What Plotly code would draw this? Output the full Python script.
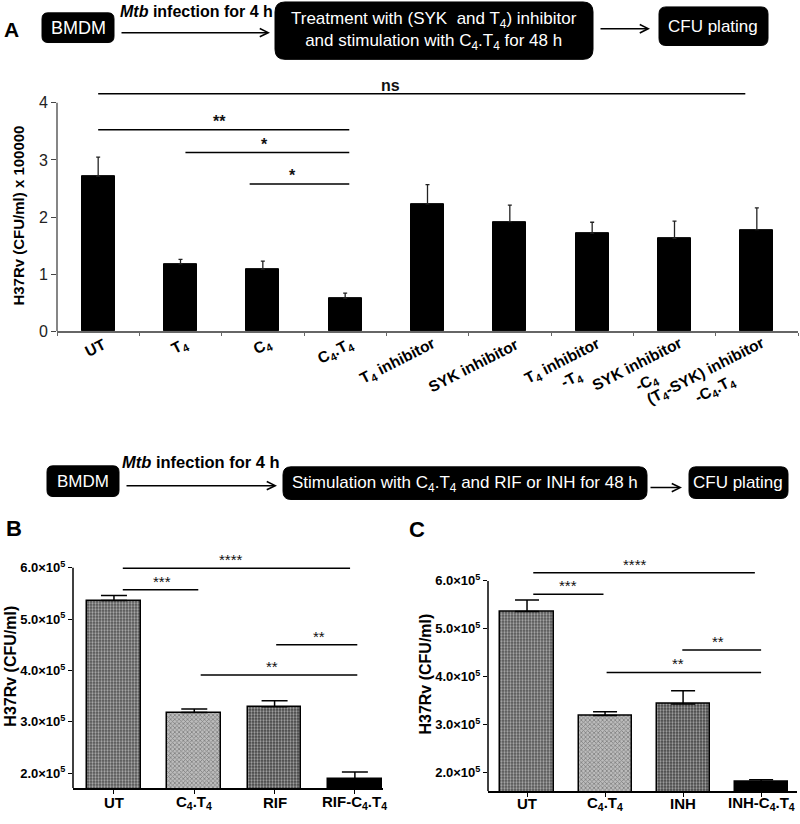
import re
import math
import plotly.graph_objects as go

W, H = 800, 824

# ---------------- Panel A data ----------------
a_labels = ["UT", "T<sub>4</sub>", "C<sub>4</sub>", "C<sub>4</sub>.T<sub>4</sub>",
            "T<sub>4</sub> inhibitor", "SYK inhibitor",
            "T<sub>4</sub> inhibitor<br>-T<sub>4</sub>",
            "SYK inhibitor<br>-C<sub>4</sub>",
            "(T<sub>4</sub>-SYK) inhibitor<br>-C<sub>4</sub>.T<sub>4</sub>"]
a_values = [2.72, 1.18, 1.09, 0.58, 2.23, 1.92, 1.72, 1.63, 1.78]
a_errors = [0.33, 0.08, 0.14, 0.09, 0.34, 0.29, 0.19, 0.30, 0.38]
a_yticks = [0, 1, 2, 3, 4]
# significance: start idx, end idx, level, text, text x
a_sig_x0 = [0.0, 0.0, 1.06, 1.84]
a_sig_x1 = [7.86, 3.05, 3.05, 3.05]
a_sig_y = [4.16, 3.53, 3.13, 2.58]
a_sig_txt = ["ns", "**", "*", "*"]
a_sig_tx = [3.55, 1.47, 2.02, 2.36]

# ---------------- Panel B data ----------------
b_labels = ["UT", "C<sub>4</sub>.T<sub>4</sub>", "RIF", "RIF-C<sub>4</sub>.T<sub>4</sub>"]
b_values = [5.36e5, 3.18e5, 3.29e5, 1.89e5]
b_errors = [0.10e5, 0.07e5, 0.12e5, 0.13e5]
b_sig_x0 = [0.11, 0.11, 2.02, 1.08]
b_sig_x1 = [2.94, 1.05, 3.03, 3.03]
b_sig_y = [5.99e5, 5.57e5, 4.50e5, 3.91e5]
b_sig_txt = ["****", "***", "**", "**"]
b_sig_tx = [1.46, 0.60, 2.55, 1.97]

# ---------------- Panel C data ----------------
c_labels = ["UT", "C<sub>4</sub>.T<sub>4</sub>", "INH", "INH-C<sub>4</sub>.T<sub>4</sub>"]
c_values = [5.36e5, 3.19e5, 3.43e5, 1.80e5]
c_errors = [0.24e5, 0.08e5, 0.28e5, 0.05e5]
c_sig_x0 = [0.08, 0.08, 1.99, 1.02]
c_sig_x1 = [2.92, 0.98, 3.00, 3.00]
c_sig_y = [6.17e5, 5.72e5, 4.56e5, 4.09e5]
c_sig_txt = ["****", "***", "**", "**"]
c_sig_tx = [1.39, 0.53, 2.45, 1.93]

bc_yticks = [2e5, 3e5, 4e5, 5e5, 6e5]
bc_yticktext = ["%.1f×10<sup>5</sup>" % (v / 1e5) for v in bc_yticks]

# bar textures for B / C
pat_shape = [".", "x", ".", ""]
pat_fg = ["#151515", "#2e2e2e", "#0c0c0c", "#000000"]
pat_bg = ["#525252", "#bcbcbc", "#434343", "#000000"]

FONT = "Arial, Liberation Sans, sans-serif"


def px(x):
    return x / W


def py(y):
    return 1 - y / H


def rrect(x0, y0, x1, y1, r):
    p = (f"M{px(x0+r)},{py(y0)} L{px(x1-r)},{py(y0)} Q{px(x1)},{py(y0)} {px(x1)},{py(y0+r)} "
         f"L{px(x1)},{py(y1-r)} Q{px(x1)},{py(y1)} {px(x1-r)},{py(y1)} "
         f"L{px(x0+r)},{py(y1)} Q{px(x0)},{py(y1)} {px(x0)},{py(y1-r)} "
         f"L{px(x0)},{py(y0+r)} Q{px(x0)},{py(y0)} {px(x0+r)},{py(y0)} Z")
    return dict(type="path", xref="paper", yref="paper", path=p,
                fillcolor="black", line=dict(color="black", width=1), layer="above")


def est_width(s, size):
    """rough width (px) of a bold Arial line with <sub> parts"""
    def cw(ch):
        if ch in "iljI .":
            return 0.28
        if ch in "tf-()":
            return 0.33
        if ch == "r":
            return 0.39
        if ch.isupper():
            return 0.68
        if ch.isdigit():
            return 0.56
        return 0.61
    total = 0.0
    for part in re.split(r"(<sub>.*?</sub>)", s):
        if part.startswith("<sub>"):
            total += 0.7 * sum(cw(c) for c in part[5:-6])
        else:
            total += sum(cw(c) for c in part)
    return total * size


fig = go.Figure()

# Panel A bars
fig.add_trace(go.Bar(
    x=list(range(len(a_labels))), y=a_values, width=0.4, xaxis="x", yaxis="y",
    marker=dict(color="black", line=dict(color="black", width=1)),
    error_y=dict(type="data", symmetric=False, array=a_errors,
                 arrayminus=[0] * len(a_errors), color="#222", thickness=1.3, width=2),
    showlegend=False))

# Panel B bars
fig.add_trace(go.Bar(
    x=list(range(len(b_labels))), y=b_values, width=0.67, xaxis="x2", yaxis="y2",
    marker=dict(color=pat_bg, line=dict(color="black", width=1.5),
                pattern=dict(shape=pat_shape, fgcolor=pat_fg, bgcolor=pat_bg,
                             size=3, solidity=0.45)),
    error_y=dict(type="data", symmetric=False, array=b_errors,
                 arrayminus=[0] * len(b_errors), color="black", thickness=1.5, width=13),
    showlegend=False))

# Panel C bars
fig.add_trace(go.Bar(
    x=list(range(len(c_labels))), y=c_values, width=0.68, xaxis="x3", yaxis="y3",
    marker=dict(color=pat_bg, line=dict(color="black", width=1.5),
                pattern=dict(shape=pat_shape, fgcolor=pat_fg, bgcolor=pat_bg,
                             size=3, solidity=0.45)),
    error_y=dict(type="data", symmetric=False, array=c_errors,
                 arrayminus=[0] * len(c_errors), color="black", thickness=1.5, width=12),
    showlegend=False))

shapes = []
annotations = []


def add_sig(xr, yr, x0s, x1s, ys, txts, txs, size, bold):
    for x0, x1, y, t, tx in zip(x0s, x1s, ys, txts, txs):
        shapes.append(dict(type="line", xref=xr, yref=yr, x0=x0, x1=x1, y0=y, y1=y,
                           line=dict(color="black", width=1.5)))
        annotations.append(dict(xref=xr, yref=yr, x=tx, y=y, text=t, showarrow=False,
                                yanchor="bottom", yshift=-2,
                                font=dict(family=FONT, size=size, color="#111",
                                          weight="bold" if bold else "normal")))


add_sig("x", "y", a_sig_x0, a_sig_x1, a_sig_y, a_sig_txt, a_sig_tx, 16, True)
add_sig("x2", "y2", b_sig_x0, b_sig_x1, b_sig_y, b_sig_txt, b_sig_tx, 15, False)
add_sig("x3", "y3", c_sig_x0, c_sig_x1, c_sig_y, c_sig_txt, c_sig_tx, 15, False)

# y axis lines (end at top tick)
shapes.append(dict(type="line", xref="x domain", yref="y", x0=0, x1=0, y0=0, y1=a_yticks[-1],
                   line=dict(color="#444", width=1.3)))
shapes.append(dict(type="line", xref="x2 domain", yref="y2", x0=0, x1=0, y0=1.71e5,
                   y1=bc_yticks[-1], line=dict(color="black", width=1.5)))
shapes.append(dict(type="line", xref="x3 domain", yref="y3", x0=0, x1=0, y0=1.61e5,
                   y1=bc_yticks[-1], line=dict(color="black", width=1.5)))

# ---------- rotated category labels for panel A ----------
ANG = 27
LAB_SIZE = 15.5
ca, sa = math.cos(math.radians(ANG)), math.sin(math.radians(ANG))
for i, lab in enumerate(a_labels):
    lines = lab.split("<br>")
    L1 = est_width(lines[0], LAB_SIZE)
    n = len(lines)
    lh = 1.25 * LAB_SIZE
    dx = 7 - ca * L1 / 2 + sa * (n - 1) * lh / 2
    cy = 347 + sa * L1 / 2 + ca * (n - 1) * lh / 2
    annotations.append(dict(xref="x", yref="paper", x=i, y=py(cy), xshift=dx,
                            text=lab, showarrow=False, textangle=-ANG,
                            xanchor="center", yanchor="middle", align="center",
                            font=dict(family=FONT, size=LAB_SIZE, color="black", weight="bold")))

# ---------- category labels for panels B / C ----------
for xr, labs, yc in [("x2", b_labels, 811), ("x3", c_labels, 812)]:
    for i, lab in enumerate(labs):
        annotations.append(dict(xref=xr, yref="paper", x=i, y=py(yc), text=lab,
                                showarrow=False, xanchor="center", yanchor="middle",
                                font=dict(family=FONT, size=15, color="black", weight="bold")))

# ---------- flow diagrams ----------
shapes += [rrect(42, 13, 114, 43, 6), rrect(275, 2, 593, 60, 10), rrect(659, 7, 768, 46, 7),
           rrect(47, 471, 119, 502, 6), rrect(283, 472, 647, 505, 8), rrect(689, 472, 788, 504, 7)]


def txt(x, y, t, size, color="white", weight="normal"):
    annotations.append(dict(xref="paper", yref="paper", x=px(x), y=py(y), text=t,
                            showarrow=False, xanchor="center", yanchor="middle",
                            font=dict(family=FONT, size=size, color=color, weight=weight)))


def arrow(x0, x1, y):
    annotations.append(dict(xref="paper", yref="paper", x=px(x1), y=py(y), ax=x0 - x1, ay=0,
                            axref="pixel", ayref="pixel", text="", showarrow=True,
                            arrowhead=5, arrowsize=1.1, arrowwidth=1.5, arrowcolor="black"))


txt(78, 28, "BMDM", 18)
txt(434, 31, "Treatment with (SYK  and T<sub>4</sub>) inhibitor<br>and stimulation with C<sub>4</sub>.T<sub>4</sub> for 48 h", 17)
txt(713, 27, "CFU plating", 17)
txt(196, 12, "<i>Mtb</i> infection for 4 h", 16, color="black", weight="bold")
arrow(120, 270, 33)
arrow(599, 650, 29)

txt(83, 487, "BMDM", 17)
txt(465, 489, "Stimulation with C<sub>4</sub>.T<sub>4</sub> and RIF or INH for 48 h", 17)
txt(738, 488, "CFU plating", 17)
txt(201, 467, "<i>Mtb</i> infection for 4 h", 16.5, color="black", weight="bold")
arrow(125, 277, 491)
arrow(649, 682, 493)

# panel letters
txt(11, 30, "A", 21, color="black", weight="bold")
txt(14, 534, "B", 22, color="black", weight="bold")
txt(417, 535, "C", 22, color="black", weight="bold")

# y axis titles
for x, y, t, s in [(19, 218, "H37Rv (CFU/ml) x 100000", 15),
                   (11, 674, "H37Rv (CFU/ml)", 16),
                   (426, 682, "H37Rv (CFU/ml)", 16)]:
    annotations.append(dict(xref="paper", yref="paper", x=px(x), y=py(y), text=t,
                            showarrow=False, textangle=-90, xanchor="center", yanchor="middle",
                            font=dict(family=FONT, size=s, color="black", weight="bold")))

common = dict(showgrid=False, zeroline=False)

fig.update_layout(
    width=W, height=H, autosize=False,
    margin=dict(l=0, r=0, t=0, b=0),
    paper_bgcolor="white", plot_bgcolor="white",
    bargap=0, barmode="overlay",
    font=dict(family=FONT, color="black"),
    xaxis=dict(domain=[px(57), px(798)], anchor="y", range=[-0.5, 8.5], showline=True,
               linecolor="#666", linewidth=1.5, ticks="outside",
               tickvals=[i - 0.5 for i in range(len(a_labels) + 1)], showticklabels=False,
               ticklen=3, tickcolor="#666", **common),
    yaxis=dict(domain=[py(335), py(80)], anchor="x", range=[0, (335 - 80) / 57.75],
               tickvals=a_yticks, ticks="outside", ticklen=5, tickcolor="#444",
               showline=False, tickfont=dict(family=FONT, size=16, color="#222"), **common),
    xaxis2=dict(domain=[px(73), px(383)], anchor="y2", range=[-0.51, 3.35], showline=True,
                linecolor="black", linewidth=1.5, ticks="outside", ticklen=4, tickcolor="black",
                tickvals=list(range(len(b_labels))), showticklabels=False, **common),
    yaxis2=dict(domain=[py(796.7), py(560)], anchor="x2",
                range=[1.71e5, 6e5 + (574 - 560) / 51.9 * 1e5],
                tickvals=bc_yticks, ticktext=bc_yticktext, ticks="outside", ticklen=4,
                tickcolor="black", showline=False,
                tickfont=dict(family=FONT, size=13, color="black", weight="bold"), **common),
    xaxis3=dict(domain=[px(488), px(797)], anchor="y3", range=[-0.5, 3.46], showline=True,
                linecolor="black", linewidth=1.5, ticks="outside", ticklen=4, tickcolor="black",
                tickvals=list(range(len(c_labels))), showticklabels=False, **common),
    yaxis3=dict(domain=[py(800), py(565)], anchor="x3",
                range=[1.61e5, 6e5 + (587.3 - 565) / 48.4 * 1e5],
                tickvals=bc_yticks, ticktext=bc_yticktext, ticks="outside", ticklen=4,
                tickcolor="black", showline=False,
                tickfont=dict(family=FONT, size=13, color="black", weight="bold"), **common),
    shapes=shapes,
    annotations=annotations,
)

fig.write_html("out.html", config={"displayModeBar": False},
               post_script="document.body.style.margin='0px';")
